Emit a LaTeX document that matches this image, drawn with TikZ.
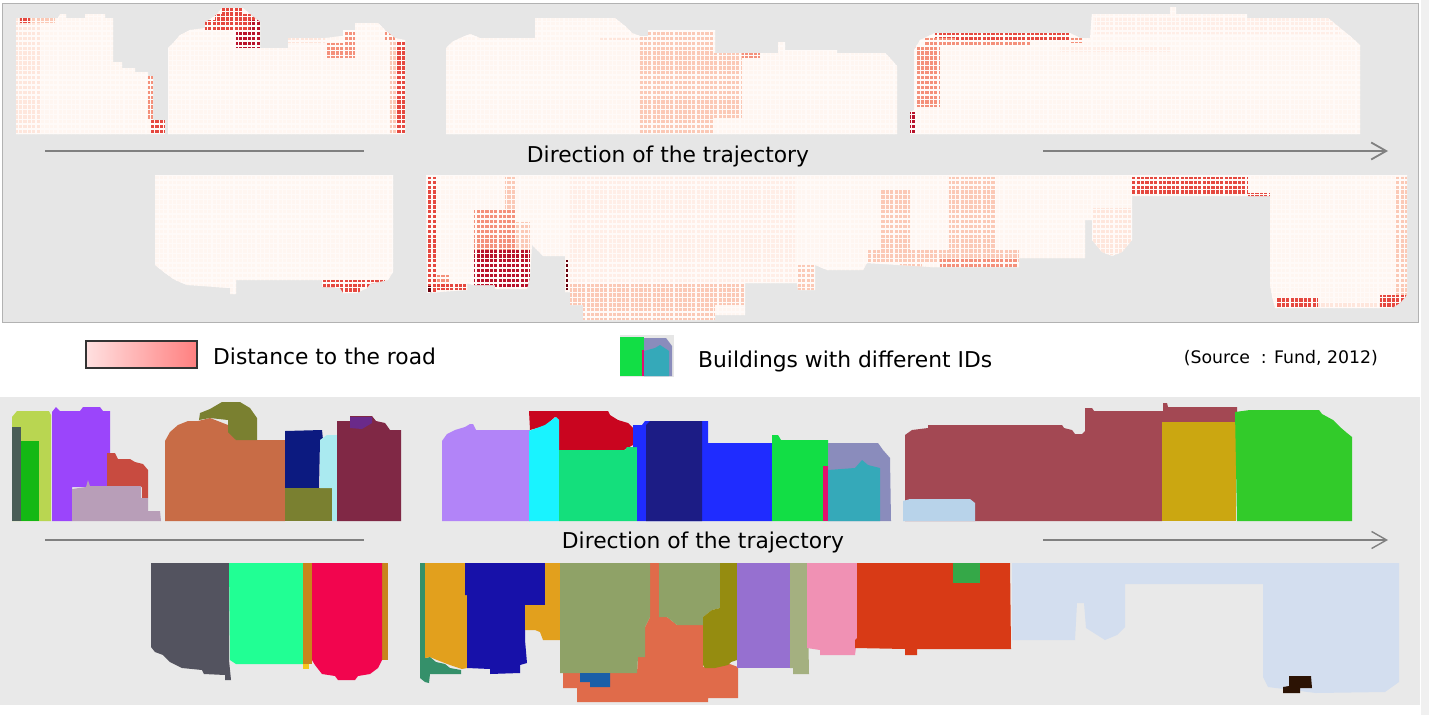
\documentclass[tikz,border=0pt]{standalone}
\usepackage{fontspec}
\setmainfont{DejaVu Sans}
\usetikzlibrary{arrows.meta}
\definecolor{panelgray}{HTML}{E6E6E6}
\definecolor{heatbase}{HTML}{FFF6F1}
\definecolor{heatgrid}{HTML}{FFFAF8}
\definecolor{heatz}{HTML}{FFEEE7}
\definecolor{heata}{HTML}{FEE6DC}
\definecolor{heatb}{HTML}{FBC9B6}
\definecolor{heatc}{HTML}{F4907A}
\definecolor{heatd}{HTML}{E5483F}
\definecolor{heate}{HTML}{B8122A}
\definecolor{heatf}{HTML}{67000D}
\definecolor{olivea}{HTML}{7A8030}
\definecolor{ambera}{HTML}{E2A01D}
\definecolor{sagea}{HTML}{8FA267}
\definecolor{ocrea}{HTML}{C8851C}
\definecolor{corala}{HTML}{E06B4A}
\tikzset{
	trajline/.style={draw=black!50,line width=1.8pt},
	caption/.style={inner sep=0pt,font=\fontsize{21.8}{26}\selectfont},
	smallcap/.style={inner sep=0pt,font=\fontsize{17.3}{21}\selectfont},
}
% one building: its colour, then its outline up to the semicolon
\newcommand{\bldg}[1]{\definecolor{bc}{HTML}{#1}\fill[bc]}
\begin{document}
\begin{tikzpicture}[x=1pt,y=-1pt]
	\useasboundingbox (0,0) rectangle (1429,715);
	\fill[white] (0,0) rectangle (1429,715);
	\fill[black!6] (1421,0) rectangle (1429,715);
	\filldraw[fill=panelgray,draw=black!30] (2,3) rectangle (1418,322);
	\fill[panelgray!90!white] (0,397) rectangle (1420,705);

	% heat map, upper half
	\begin{scope}
	\clip	(16,18) -- (58,18) -- (60,14) -- (66,14) -- (66,18) -- (85,18) -- (85,14) -- (105,14) -- (105,18) -- (113,18) -- (113,62) -- (122,62) -- (122,68) -- (135,68) -- (135,72) -- (148,72) -- (148,76) -- (153,76) -- (153,120) -- (165,120) -- (165,134) -- (16,134) -- cycle
			(168,134) -- (168,48) -- (174,42) -- (180,35) -- (190,30) -- (205,28) -- (205,22) -- (215,16) -- (222,8) -- (243,8) -- (250,14) -- (260,22) -- (260,48) -- (288,48) -- (288,38) -- (325,38) -- (343,36) -- (343,30) -- (355,30) -- (355,23) -- (378,23) -- (385,30) -- (395,38) -- (405,40) -- (405,134) -- cycle
			(446,134) -- (446,48) -- (452,42) -- (460,38) -- (470,34) -- (480,38) -- (535,38) -- (535,18) -- (615,18) -- (625,26) -- (632,33) -- (640,36) -- (648,36) -- (648,30) -- (715,30) -- (715,53) -- (778,53) -- (778,42) -- (785,42) -- (785,50) -- (837,50) -- (837,53) -- (885,53) -- (890,58) -- (897,66) -- (897,134) -- cycle
			(910,134) -- (910,112) -- (914,110) -- (914,50) -- (920,40) -- (935,33) -- (1070,33) -- (1080,38) -- (1090,38) -- (1092,14) -- (1170,14) -- (1170,7) -- (1176,7) -- (1176,14) -- (1247,14) -- (1247,18) -- (1328,18) -- (1340,28) -- (1350,36) -- (1360,45) -- (1360,134) -- cycle
			(155,175) -- (393,175) -- (393,272) -- (388,280) -- (370,284) -- (367,288) -- (357,293) -- (343,293) -- (340,288) -- (322,287) -- (322,280) -- (236,280) -- (236,294) -- (230,294) -- (230,288) -- (187,285) -- (175,280) -- (165,273) -- (155,265) -- cycle
			(426,175) -- (1407,175) -- (1407,295) -- (1400,303) -- (1392,308) -- (1275,308) -- (1272,296) -- (1270,285) -- (1270,196) -- (1132,196) -- (1132,240) -- (1122,252) -- (1112,256) -- (1102,252) -- (1092,240) -- (1092,220) -- (1085,220) -- (1085,258) -- (1019,258) -- (1019,267) -- (930,267) -- (867,263) -- (863,270) -- (827,270) -- (815,265) -- (815,290) -- (798,290) -- (797,283) -- (745,283) -- (745,315) -- (715,315) -- (715,320) -- (583,320) -- (583,305) -- (570,305) -- (570,292) -- (565,292) -- (565,256) -- (543,256) -- (532,245) -- (530,277) -- (527,289) -- (495,289) -- (495,285) -- (473,285) -- (467,283) -- (467,290) -- (427,293) -- cycle;
	\fill[heatbase] (0,0) rectangle (1429,330);
	\foreach \xa/\ya/\xb/\yb/\heatcol in {
		16/18/40/134/heata, 20/18/30/23/heatd, 30/18/55/23/heatb, 148/76/153/120/heatc, 150/120/165/134/heatd,
		205/20/260/30/heatd, 215/14/258/20/heatd, 222/8/243/14/heatd, 236/30/260/48/heate, 250/20/260/30/heate,
		396/40/405/134/heatd, 390/40/396/134/heatb, 385/30/395/40/heatc, 343/30/355/58/heatc, 326/43/343/58/heatc, 288/38/325/43/heata,
		640/30/713/134/heatb, 713/53/742/118/heatb, 742/53/760/58/heatc, 600/38/640/42/heata,
		935/33/1070/42/heatd, 955/42/1030/47/heatc, 915/47/940/107/heatc, 925/38/955/47/heatc, 1070/38/1082/43/heatc, 910/112/916/134/heate,
		1095/18/1340/34/heatz, 1060/47/1170/52/heatz,
		322/280/385/288/heatd, 335/288/360/293/heatd,
		427/177/436/292/heatd, 436/275/450/283/heatc, 430/282/466/290/heatd, 427/286/432/293/heatf,
		474/210/516/250/heatc, 505/177/516/210/heatb, 516/222/530/250/heatb, 474/250/530/287/heate,
		566/260/569/290/heatf, 570/177/795/282/heatz, 570/282/745/305/heatb, 583/305/715/320/heatb,
		797/265/815/290/heatb, 880/190/910/250/heatb, 867/250/1019/262/heatb, 949/177/996/258/heatb, 940/258/1018/267/heatc, 900/258/922/267/heatb,
		1092/208/1132/255/heata, 1132/177/1248/195/heatd, 1248/193/1270/197/heatd,
		1395/177/1407/295/heatb, 1277/297/1318/308/heatd, 1380/295/1407/308/heatd, 1318/303/1380/308/heata}
		\fill[\heatcol] (\xa,\ya) rectangle (\xb,\yb);
	\foreach \k in {0,...,320}
		\draw[heatgrid,line width=1.2pt] ({14+4.4*\k},0) -- ({14+4.4*\k},330);
	\foreach \k in {0,...,27}
		\draw[heatgrid,line width=1.5pt] (0,{134-4.9*\k}) -- (1429,{134-4.9*\k});
	\foreach \k in {0,...,30}
		\draw[heatgrid,line width=1.5pt] (0,{175+4.9*\k}) -- (1429,{175+4.9*\k});
	\end{scope}

	% trajectory, upper
	\coordinate (ua) at (45,151);
	\coordinate (ub) at (364,151);
	\coordinate (uc) at (1043,151);
	\coordinate (ud) at (1388,151);
	\draw[trajline] (ua) -- (ub);
	\draw[trajline,-{Straight Barb[length=15pt,width=17pt]}] (uc) -- (ud);
	\node[caption] (updir) at (668,156.5) {Direction of the trajectory};

	% legend
	\draw[left color=red!12,right color=red!50,draw=black!80,line width=1.2pt] (86,341) rectangle (197,368);
	\node[caption,anchor=west] (lgdist) at (213,356.5) {Distance to the road};
	\fill[panelgray] (620,335) rectangle (674,377);
	\bldg{8A8CBC} (644,338) -- (666,338) -- (672,346) -- (672,376) -- (644,376) -- cycle;
	\bldg{35A9B9} (644,351) -- (655,348) -- (660,345) -- (669,351) -- (669,376) -- (644,376) -- cycle;
	\bldg{12DE45} (620,337) -- (644,337) -- (644,376) -- (620,376) -- cycle;
	\bldg{E3106F} (642,350) rectangle (644,376);
	\node[caption,anchor=west] (lgid) at (698,361) {Buildings with different IDs};
	\node[smallcap,anchor=east] (lgsrc) at (1378,358) {(Source~~: Fund, 2012)};

	% buildings, upper row
	\bldg{B9D651} (12,426) -- (12,417) -- (17,411) -- (49,411) -- (51,415) -- (51,521) -- (12,521) -- cycle;
	\bldg{4A5D57} (12,427) -- (21,427) -- (21,521) -- (12,521) -- cycle;
	\bldg{14B814} (21,441) -- (39,441) -- (39,521) -- (21,521) -- cycle;
	\bldg{9B45FB} (52,521) -- (52,412) -- (56,407) -- (60,411) -- (80,411) -- (83,407) -- (100,407) -- (103,411) -- (110,411) -- (110,487) -- (72,487) -- (72,521) -- cycle;
	\bldg{C84B40} (107,490) -- (107,453) -- (115,453) -- (118,459) -- (130,459) -- (135,462) -- (143,464) -- (148,470) -- (148,498) -- (142,498) -- (142,487) -- cycle;
	\bldg{B89EB8} (72,521) -- (72,489) -- (86,487) -- (88,480) -- (90,486) -- (141,486) -- (141,498) -- (148,498) -- (148,511) -- (160,511) -- (161,521) -- cycle;
	\bldg{C86C46} (165,521) -- (165,441) -- (170,432) -- (178,425) -- (188,421) -- (198,421) -- (210,418) -- (228,425) -- (232,432) -- (236,440) -- (285,440) -- (285,521) -- cycle;
	\fill[olivea] (199,420) -- (200,413) -- (210,409) -- (222,402) -- (240,402) -- (250,408) -- (257,418) -- (257,440) -- (236,440) -- (228,432) -- (228,420) -- (210,418) -- cycle;
	\bldg{0C1A80} (285,488) -- (285,431) -- (322,430) -- (323,440) -- (320,440) -- (319,488) -- cycle;
	\fill[olivea] (285,488) -- (332,488) -- (332,521) -- (285,521) -- cycle;
	\bldg{AAEAF0} (320,488) -- (320,440) -- (327,435) -- (337,435) -- (337,521) -- (332,521) -- (332,488) -- cycle;
	\bldg{802845} (337,521) -- (337,421) -- (350,421) -- (350,416) -- (372,416) -- (376,421) -- (385,423) -- (390,430) -- (401,430) -- (401,521) -- cycle;
	\bldg{6A2A8A} (350,428) -- (350,417) -- (372,417) -- (372,423) -- (362,429) -- cycle;
	\bldg{B284F8} (442,521) -- (442,441) -- (447,434) -- (455,430) -- (465,427) -- (470,424) -- (473,424) -- (476,430) -- (530,430) -- (530,521) -- cycle;
	\bldg{C9051F} (529,411) -- (608,411) -- (610,415) -- (618,420) -- (628,423) -- (633,428) -- (633,445) -- (624,450) -- (559,450) -- (559,420) -- (555,417) -- (545,426) -- (530,430) -- cycle;
	\bldg{19F3FF} (529,431) -- (545,425) -- (556,417) -- (559,420) -- (559,521) -- (529,521) -- cycle;
	\bldg{14DF7C} (559,450) -- (625,450) -- (627,447) -- (637,447) -- (637,521) -- (559,521) -- cycle;
	\bldg{1F2CFF} (633,425) -- (642,425) -- (645,421) -- (708,421) -- (708,443) -- (772,443) -- (772,521) -- (637,521) -- (637,447) -- (633,447) -- cycle;
	\bldg{1C1C85} (646,521) -- (646,425) -- (650,421) -- (702,421) -- (702,521) -- cycle;
	\bldg{12DE45} (772,521) -- (772,435) -- (778,435) -- (781,440) -- (828,440) -- (828,521) -- cycle;
	\bldg{8A8CBC} (828,443) -- (878,443) -- (883,450) -- (890,458) -- (891,521) -- (828,521) -- cycle;
	\bldg{35A9B9} (828,470) -- (855,468) -- (862,460) -- (868,465) -- (880,468) -- (880,521) -- (828,521) -- cycle;
	\bldg{E3106F} (823,466) -- (828,466) -- (828,521) -- (823,521) -- cycle;
	\bldg{A34853} (905,521) -- (905,435) -- (912,430) -- (928,428) -- (928,425) -- (1062,425) -- (1064,428) -- (1072,430) -- (1075,434) -- (1082,434) -- (1085,431) -- (1085,408) -- (1092,408) -- (1094,411) -- (1163,411) -- (1163,403) -- (1167,403) -- (1168,407) -- (1237,407) -- (1237,422) -- (1162,422) -- (1162,521) -- cycle;
	\bldg{B8D3EA} (903,521) -- (903,501) -- (910,499) -- (970,499) -- (975,503) -- (975,521) -- cycle;
	\bldg{CBA711} (1162,422) -- (1236,422) -- (1236,521) -- (1162,521) -- cycle;
	\bldg{32CB2A} (1237,521) -- (1235,412) -- (1250,410) -- (1319,410) -- (1322,414) -- (1333,420) -- (1340,427) -- (1347,433) -- (1352,437) -- (1352,521) -- cycle;

	% trajectory, lower
	\coordinate (la) at (45,540);
	\coordinate (lb) at (364,540);
	\coordinate (lc) at (1043,540);
	\coordinate (ld) at (1388,540);
	\draw[trajline,line width=1.4pt] (la) -- (lb);
	\draw[trajline,line width=1.4pt,-{Straight Barb[length=15pt,width=17pt]}] (lc) -- (ld);
	\node[caption] (lodir) at (703,542.5) {Direction of the trajectory};

	% buildings, lower row
	\bldg{53535F} (151,563) -- (229,563) -- (229,660) -- (231,680) -- (225,680) -- (225,675) -- (204,674) -- (202,670) -- (182,668) -- (170,662) -- (163,655) -- (155,652) -- (151,647) -- cycle;
	\bldg{21FF94} (229,563) -- (303,563) -- (303,664) -- (236,664) -- (230,660) -- cycle;
	\fill[ocrea] (303,563) -- (312,563) -- (312,664) -- (303,664) -- cycle;
	\bldg{F5C81C} (303,664) -- (309,664) -- (309,669) -- (303,669) -- cycle;
	\fill[ocrea] (382,563) -- (388,563) -- (388,660) -- (382,660) -- cycle;
	\bldg{F2054E} (312,563) -- (382,563) -- (382,660) -- (378,668) -- (370,674) -- (358,676) -- (355,680) -- (338,680) -- (335,676) -- (322,674) -- (315,665) -- (312,660) -- cycle;
	\bldg{35906A} (420,563) -- (425,563) -- (425,658) -- (430,657) -- (436,662) -- (445,664) -- (450,668) -- (461,670) -- (461,674) -- (430,674) -- (429,683) -- (425,682) -- (420,678) -- cycle;
	\fill[ambera] (425,563) -- (465,563) -- (467,595) -- (467,668) -- (462,669) -- (450,665) -- (437,660) -- (430,657) -- (425,658) -- cycle;
	\bldg{1711A9} (465,563) -- (545,563) -- (545,605) -- (525,605) -- (525,640) -- (527,663) -- (520,665) -- (520,673) -- (490,674) -- (490,669) -- (467,668) -- (467,595) -- (465,595) -- cycle;
	\fill[ambera] (545,563) -- (560,563) -- (560,640) -- (543,640) -- (540,632) -- (535,630) -- (525,630) -- (525,605) -- (545,605) -- cycle;
	\fill[corala] (650,563) -- (659,563) -- (659,617) -- (667,617) -- (677,625) -- (703,625) -- (703,667) -- (727,663) -- (738,667) -- (738,698) -- (708,698) -- (708,702) -- (577,702) -- (577,688) -- (563,688) -- (563,673) -- (637,673) -- (638,657) -- (645,657) -- (645,627) -- (650,617) -- cycle;
	\fill[sagea] (560,563) -- (650,563) -- (650,617) -- (645,627) -- (645,657) -- (638,657) -- (637,673) -- (560,673) -- cycle;
	\fill[sagea] (659,563) -- (720,563) -- (720,608) -- (712,610) -- (703,617) -- (703,625) -- (677,625) -- (667,617) -- (659,617) -- cycle;
	\bldg{958C10} (720,563) -- (737,563) -- (737,660) -- (731,662) -- (728,665) -- (715,668) -- (705,668) -- (703,665) -- (703,617) -- (712,610) -- (720,608) -- cycle;
	\bldg{1A5FA8} (580,673) -- (610,673) -- (610,687) -- (590,687) -- (590,682) -- (580,682) -- cycle;
	\bldg{9670D0} (737,563) -- (790,563) -- (790,668) -- (737,668) -- cycle;
	\bldg{A4B080} (790,563) -- (807,563) -- (809,674) -- (793,674) -- (793,668) -- (790,668) -- cycle;
	\bldg{F091B4} (807,563) -- (857,563) -- (857,640) -- (855,655) -- (820,655) -- (820,650) -- (807,648) -- cycle;
	\bldg{D83A16} (857,563) -- (1010,563) -- (1011,649) -- (917,649) -- (917,655) -- (905,655) -- (905,649) -- (855,648) -- (855,640) -- (857,638) -- cycle;
	\bldg{35A848} (953,563) -- (980,563) -- (980,583) -- (953,583) -- cycle;
	\bldg{D3DEEF} (1012,563) -- (1399,563) -- (1399,682) -- (1385,692) -- (1316,693) -- (1268,687) -- (1263,677) -- (1263,584) -- (1125,584) -- (1125,627) -- (1117,635) -- (1105,640) -- (1086,628) -- (1084,603) -- (1077,603) -- (1075,640) -- (1012,640) -- cycle;
	\bldg{2C1304} (1289,676) -- (1311,676) -- (1312,688) -- (1300,688) -- (1300,693) -- (1283,693) -- (1283,687) -- (1289,686) -- cycle;
\end{tikzpicture}
\end{document}
